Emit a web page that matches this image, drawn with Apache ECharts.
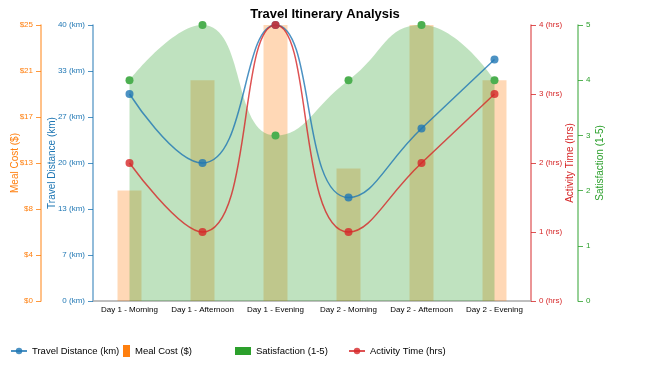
<!DOCTYPE html>
<html>
<head>
<meta charset="utf-8">
<script src="https://cdn.jsdelivr.net/npm/echarts@6/dist/echarts.min.js"></script>
<style>
html,body{margin:0;padding:0;background:#fff;}
#chart{width:650px;height:366px;}
</style>
</head>
<body>
<div id="chart"></div>
<script>
const categories = ['Day 1 - Morning','Day 1 - Afternoon','Day 1 - Evening','Day 2 - Morning','Day 2 - Afternoon','Day 2 - Evening'];
const travelDistance = [30, 20, 40, 15, 25, 35];
const mealCost = [10, 20, 25, 12, 25, 20];
const satisfaction = [4, 5, 3, 4, 5, 4];
const activityTime = [2, 1, 4, 1, 2, 3];

const BLUE = '#1f77b4', ORANGE = '#ff7f0e', GREEN = '#2ca02c', RED = '#d62728';
const FONT = 'Liberation Sans, Arial, sans-serif';

const chart = echarts.init(document.getElementById('chart'), null, {renderer:'canvas'});

function yAx(color, extra, fmt){
  return Object.assign({
    type:'value',
    splitLine:{show:false},
    axisLine:{show:true, lineStyle:{color:color, width:1.5, opacity:0.65}},
    axisTick:{show:true, length:5, lineStyle:{color:color, opacity:0.8}},
    axisLabel:{color:color, fontSize:8, fontFamily:FONT, margin:8, formatter:fmt},
    nameLocation:'middle',
    nameRotate:90,
    nameMoveOverlap:false,
    nameTextStyle:{color:color, fontSize:10, fontFamily:FONT}
  }, extra);
}

chart.setOption({
  animation:false,
  backgroundColor:'#fff',
  title:{
    text:'Travel Itinerary Analysis',
    left:'center', top:3,
    textStyle:{fontSize:13, fontWeight:'bold', color:'#000', fontFamily:FONT}
  },
  grid:{left:93, right:119, top:25, bottom:65, containLabel:false, outerBoundsMode:'none'},
  legend:[
    {left:5, top:341, itemWidth:16, itemHeight:8, itemGap:5, textStyle:{fontSize:9.5, fontFamily:FONT, color:'#000'},
     data:[{name:'Travel Distance (km)'}]},
    {left:118, top:340, itemWidth:7, itemHeight:12, textStyle:{fontSize:9.5, fontFamily:FONT, color:'#000'},
     data:[{name:'Meal Cost ($)', icon:'rect', itemStyle:{color:ORANGE, opacity:1}}]},
    {left:230, top:341, itemWidth:16, itemHeight:8, textStyle:{fontSize:9.5, fontFamily:FONT, color:'#000'},
     data:[{name:'Satisfaction (1-5)', icon:'rect', itemStyle:{color:GREEN, opacity:1}}]},
    {left:343, top:341, itemWidth:16, itemHeight:8, textStyle:{fontSize:9.5, fontFamily:FONT, color:'#000'},
     data:[{name:'Activity Time (hrs)'}]}
  ],
  xAxis:{
    type:'category',
    data:categories,
    boundaryGap:true,
    axisLine:{lineStyle:{color:'#aaa', width:1.5}},
    axisTick:{alignWithLabel:true, length:4, lineStyle:{color:'#888'}},
    axisLabel:{color:'#000', fontSize:8, fontFamily:FONT, margin:5, interval:0}
  },
  yAxis:[
    yAx(ORANGE, {position:'left', offset:52, min:0, max:25, interval:25/6, name:'Meal Cost ($)', nameGap:21}, v=>'$'+Math.round(v)),
    yAx(BLUE, {position:'left', offset:0, min:0, max:40, interval:40/6, name:'Travel Distance (km)', nameGap:36}, v=>Math.round(v)+' (km)'),
    yAx(RED, {position:'right', offset:0, min:0, max:4, interval:1, name:'Activity Time (hrs)', nameGap:34}, v=>v+' (hrs)'),
    yAx(GREEN, {position:'right', offset:47, min:0, max:5, interval:1, name:'Satisfaction (1-5)', nameGap:17}, v=>String(v))
  ],
  series:[
    {name:'Meal Cost ($)', type:'bar', yAxisIndex:0, data:mealCost, barWidth:24,
     itemStyle:{color:ORANGE, opacity:0.3}, z:1},
    {name:'Satisfaction (1-5)', type:'line', yAxisIndex:3, data:satisfaction, smooth:true,
     lineStyle:{width:0}, areaStyle:{color:GREEN, opacity:0.3},
     symbol:'circle', symbolSize:8, showSymbol:true, itemStyle:{color:'#4caf50'}, z:2},
    {name:'Travel Distance (km)', type:'line', yAxisIndex:1, data:travelDistance, smooth:true,
     lineStyle:{color:BLUE, width:1.5, opacity:0.8}, symbol:'circle', symbolSize:8, itemStyle:{color:BLUE, opacity:0.8}, z:3},
    {name:'Activity Time (hrs)', type:'line', yAxisIndex:2, data:activityTime, smooth:true,
     lineStyle:{color:RED, width:1.5, opacity:0.8}, symbol:'circle', symbolSize:8, itemStyle:{color:RED, opacity:0.8}, z:3}
  ]
});
</script>
</body>
</html>
